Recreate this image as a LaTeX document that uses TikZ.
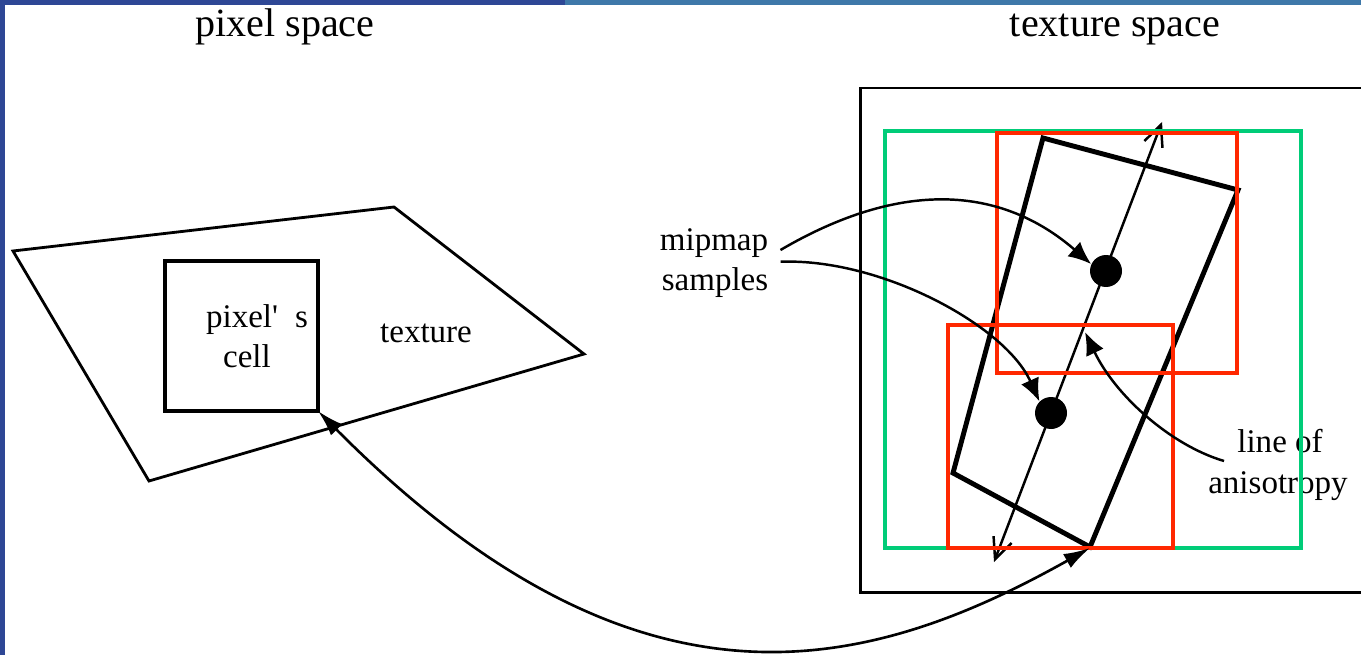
\documentclass[tikz,border=0pt]{standalone}
\usepackage{fontspec}
\setmainfont{Liberation Serif}
\usepackage{tikz}
\usetikzlibrary{arrows.meta, positioning}
\definecolor{frameblue}{RGB}{46,71,149}
\definecolor{framelight}{RGB}{62,120,169}
\definecolor{green1}{RGB}{0,204,120}
\definecolor{red1}{RGB}{255,40,0}
\tikzset{pixel units/.style={
    x=#1,
    y=-#1
  }
}

\begin{document}
\begin{tikzpicture}[pixel units = 0.02cm,
    titletext/.style={font=\fontsize{22.8}{26}\selectfont, inner sep=0pt, anchor=base},
    labeltext/.style={font=\fontsize{18.8}{22}\selectfont, inner sep=0pt, anchor=base},
    plane/.style={line width=1.6pt, line join=miter},
    cellbox/.style={line width=2.4pt, line join=miter},
    footprint/.style={line width=2.8pt, line join=miter},
    redbox/.style={draw=red1, line width=2.3pt},
    greenbox/.style={draw=green1, line width=2.3pt},
    sampledot/.style={shape=circle, fill=black, minimum size=0.64cm, inner sep=0pt},
    sigarrow/.style={-{Latex[length=13pt,width=11pt]}, line width=1.4pt, color=black},
    maparrow/.style={{Latex[length=15pt,width=9pt]}-{Latex[length=15pt,width=9pt]}, line width=1.5pt, color=black},
    axisarrow/.style={{Straight Barb[length=12pt,width=11pt]}-{Straight Barb[length=12pt,width=11pt]}, line width=1.4pt, color=black}
]
        \useasboundingbox (0,0) rectangle (1361,655);
        \clip (0,0) rectangle (1361,655);
        \fill[white] (0,0) rectangle (1361,655);

        % slide frame
        \fill[frameblue] (0,0) rectangle (5,655);
        \fill[frameblue] (0,0) rectangle (565,5);
        \fill[framelight] (565,0) rectangle (1361,5);

        \node[titletext, name=pixtitle] at(285,37) {pixel space};
        \node[titletext, name=textitle] at(1115,37) {texture space};

        % pixel space
        \draw[plane] (13,251) -- (394,207) -- (584,354) -- (149,481) -- cycle;
        \draw[cellbox] (165,261) rectangle (318,411);
        \coordinate (cellcorner) at (318,411);
        \node[labeltext, name=pixlabel] at(257,327) {pixel\textquotesingle\hspace{0.34cm}s};
        \node[labeltext, name=celllabel] at(247,367) {cell};
        \node[labeltext, name=texlabel] at(426,342) {texture};

        % texture space
        \draw[line width=1.7pt] (1400,88) -- (860,88) -- (860,592) -- (1400,592);
        \draw[footprint] (1043,138) -- (1238,190) -- (1090,547) -- (953,473) -- cycle;
        \coordinate (footcorner) at (1090,548);
        \coordinate (axtop) at (1162,122);
        \coordinate (axbot) at (994,562);
        \draw[axisarrow] (axbot) -- (axtop);
        \node[sampledot, name=upper] at(1106,271) {};
        \node[sampledot, name=lower] at(1051,413) {};

        \node[labeltext, name=mipmap] at(714,250) {mipmap};
        \node[labeltext, name=samples] at(715,290) {samples};
        \node[labeltext, name=lineof] at(1280,452) {line of};
        \node[labeltext, name=aniso] at(1278,493) {anisotropy};

        \draw[greenbox] (885,131) rectangle (1301,548);
        \draw[redbox] (997,133) rectangle (1237,373);
        \draw[redbox] (948,325) rectangle (1173,548);

        \draw[sigarrow] ([shift={(12,0)}]mipmap.base east) .. controls (900,180) and (1000,185) .. (upper.155);
        \draw[sigarrow] ([shift={(12,-5)}]samples.north east) .. controls (880,258) and (1005,325) .. (lower.135);
        \draw[sigarrow] ([shift={(-13,9)}]lineof.base west) .. controls (1170,445) and (1115,395) .. (1085,332);

        \draw[maparrow] (cellcorner) .. controls (638,733) and (867,673) .. (footcorner);
\end{tikzpicture}
\end{document}
